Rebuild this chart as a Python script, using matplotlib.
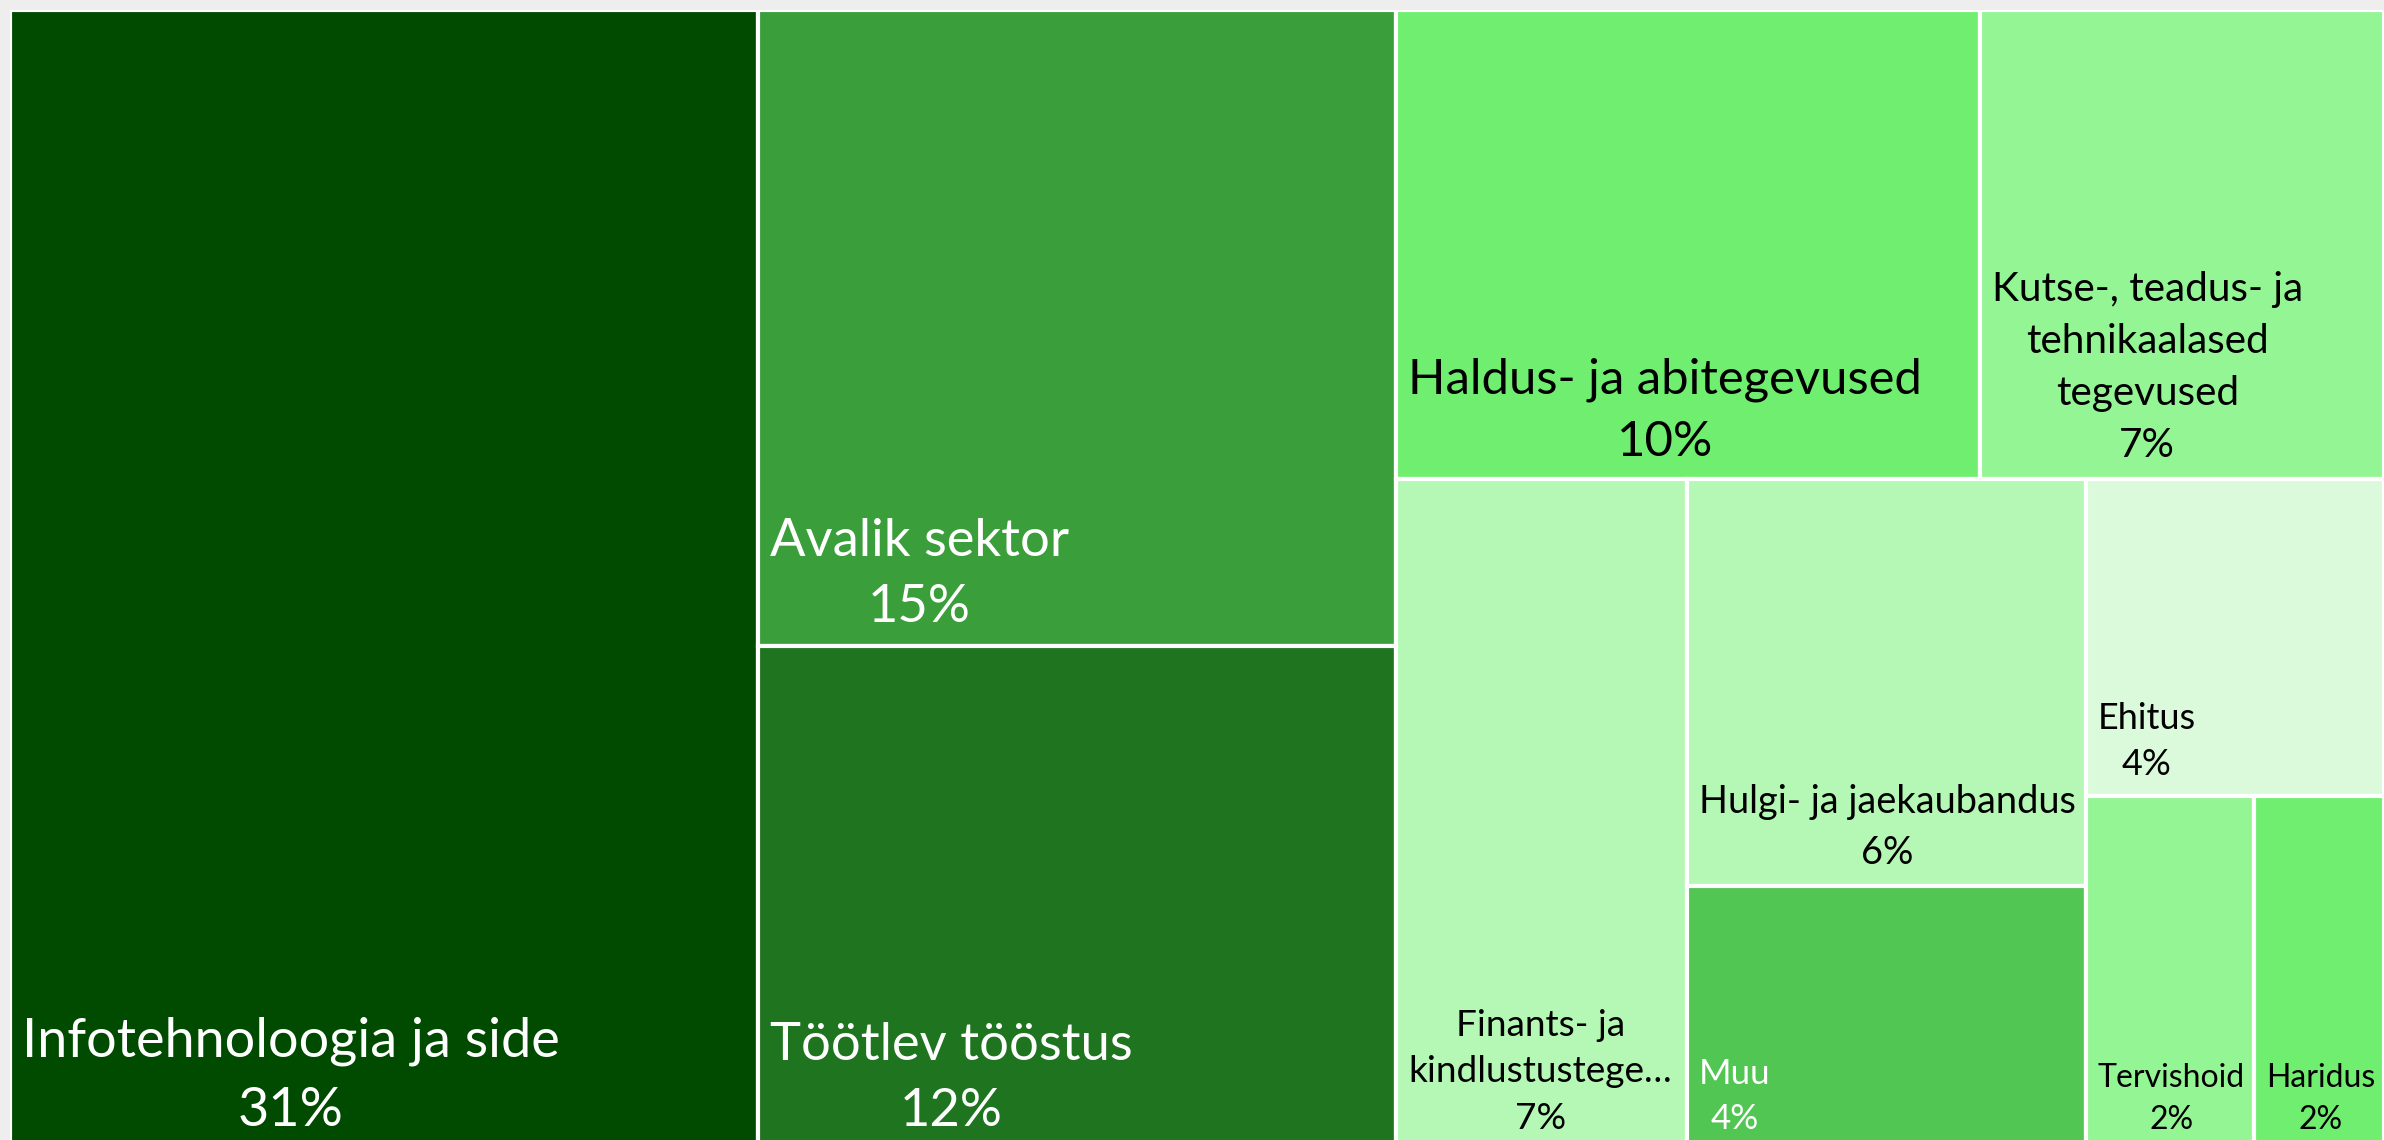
import matplotlib
matplotlib.use("Agg")
import matplotlib.pyplot as plt
from matplotlib.patches import Rectangle

plt.rcParams['font.family'] = ['Lato', 'DejaVu Sans']

# data (share of total, %), in treemap order
names = ["Infotehnoloogia ja side", "Avalik sektor", "Töötlev tööstus",
         "Haldus- ja abitegevused", "Kutse-, teadus- ja\ntehnikaalased\ntegevused",
         "Finants- ja\nkindlustustege…", "Hulgi- ja jaekaubandus", "Muu",
         "Ehitus", "Tervishoid", "Haridus"]
values = [31.5, 15.0, 11.9, 10.1, 7.0, 7.2, 6.0, 3.9, 3.5, 2.2, 1.7]
pct_labels = ["31%", "15%", "12%", "10%", "7%", "7%", "6%", "4%", "4%", "2%", "2%"]
groups = [1, 2, 2, 1, 2, 1, 2]   # how many tiles go in each strip

colors = ["#004b00", "#3a9f3a", "#1f741f", "#70ee70", "#94f594", "#b5f8b5",
          "#b5f8b5", "#52c652", "#dbfadb", "#94f594", "#70ee70"]
text_colors = ["white", "white", "white", "black", "black", "black",
               "black", "white", "black", "black", "black"]
font_px = [54, 52.5, 52.5, 49, 40.5, 37, 38, 35, 36, 32, 32]


def strip_layout(vals, groups, x, y, w, h):
    rects = []
    total = sum(vals)
    i = 0
    for n in groups:
        part = vals[i:i + n]
        s = sum(part)
        if w >= h:
            cw = w * s / total
            yy = y
            for v in part:
                ch = h * v / s
                rects.append((x, yy, cw, ch))
                yy += ch
            x += cw
            w -= cw
        else:
            rh = h * s / total
            xx = x
            for v in part:
                rw = w * v / s
                rects.append((xx, y, rw, rh))
                xx += rw
            y += rh
            h -= rh
        total -= s
        i += n
    return rects


W, H = 2374, 1140
fig = plt.figure(figsize=(23.84, 11.40), dpi=100, facecolor="#eeeeee")
ax = fig.add_axes([10 / 2384, -10 / 1140, W / 2384, H / 1140])
ax.set_xlim(0, W)
ax.set_ylim(H, 0)
ax.axis("off")

rects = strip_layout(values, groups, 0, 0, W, H)
for k, (rx, ry, rw, rh) in enumerate(rects):
    ax.add_patch(Rectangle((rx, ry), rw, rh, facecolor=colors[k],
                           edgecolor="white", linewidth=3))
    ax.text(rx + 12, ry + rh - 15, names[k] + "\n" + pct_labels[k],
            ha="left", va="bottom", multialignment="center",
            color=text_colors[k], fontsize=font_px[k] * 0.72,
            linespacing=1.5)

fig.savefig("out.png", dpi=100, facecolor=fig.get_facecolor())
